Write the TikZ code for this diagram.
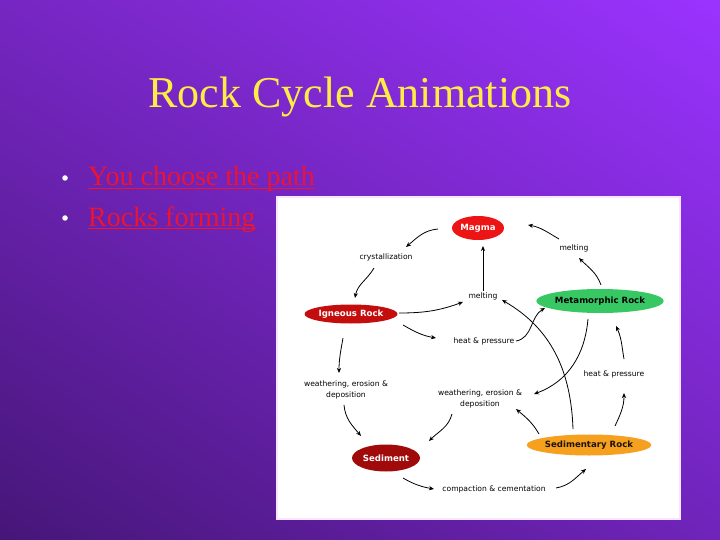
\documentclass[tikz,border=0pt]{standalone}
\usepackage{fontspec}
\setmainfont{Liberation Serif}
\newfontfamily\diagfont{DejaVu Sans}
\usetikzlibrary{shapes.geometric,arrows.meta,shadings}
\definecolor{bgll}{RGB}{70,22,120}
\definecolor{bgur}{RGB}{154,51,255}
\definecolor{bgul}{RGB}{118,38,194}
\definecolor{bglr}{RGB}{112,36,186}
\definecolor{titleyellow}{RGB}{255,236,70}
\definecolor{linkred}{RGB}{235,20,50}
\definecolor{magmared}{RGB}{236,20,20}
\definecolor{ignred}{RGB}{196,13,13}
\definecolor{metagreen}{RGB}{55,200,100}
\definecolor{sedred}{RGB}{160,10,10}
\definecolor{sedorange}{RGB}{245,160,30}
\definecolor{imgborder}{RGB}{246,230,255}
\tikzset{
  rock/.style={ellipse, inner sep=0pt, font=\diagfont\bfseries\fontsize{8.6}{9}\selectfont},
  lbl/.style={inner sep=0.5pt, align=center, font=\diagfont\fontsize{7.6}{10.5}\selectfont},
  arr/.style={-{Stealth[length=5pt,width=4.2pt]}, line width=0.8pt, black},
  bulletdot/.style={circle, fill=white, inner sep=0pt, minimum size=5.5pt},
  link/.style={anchor=base west, inner sep=0pt, text=linkred, font=\fontsize{28}{28}\selectfont}
}
\begin{document}
\begin{tikzpicture}[x=1pt,y=1pt]
\useasboundingbox (0,0) rectangle (720,-540);
\shade[upper left=bgul, upper right=bgur, lower left=bgll, lower right=bglr] (0,0) rectangle (720,-540);

% title
\node[anchor=base, inner sep=0pt, text=titleyellow, font=\fontsize{44}{44}\selectfont] (title) at (360,-108) {Rock Cycle Animations};

% bullets
\node[bulletdot] (b1) at (65,-178) {};
\node[bulletdot] (b2) at (65,-218) {};
\node[link] (l1) at (88,-186) {You choose the path};
\node[link] (l2) at (88,-226) {Rocks forming};
\draw[linkred, line width=1.5pt] ([yshift=-2.5pt]l1.base west) -- ([yshift=-2.5pt]l1.base east);
\draw[linkred, line width=1.5pt] ([yshift=-2.5pt]l2.base west) -- ([yshift=-2.5pt]l2.base east);

% image box
\draw[fill=white, draw=imgborder, line width=2pt] (277,-197) rectangle (680,-519);

% rocks
\node[rock, fill=magmared, text=white, minimum width=52pt, minimum height=24pt] (magma) at (478,-228) {Magma};
\node[rock, fill=ignred, text=white, minimum width=93pt, minimum height=19pt] (igneous) at (351,-314) {Igneous Rock};
\node[rock, fill=metagreen, text=black, minimum width=112pt, minimum height=24pt] (meta) at (600,-301) {Metamorphic Rock};
\node[rock, fill=sedred, text=white, minimum width=68pt, minimum height=27pt] (sediment) at (386,-458) {Sediment};
\node[rock, fill=sedorange, text=black!85!brown, minimum width=110pt, minimum height=21pt] (sedrock) at (589,-445) {Sedimentary Rock};

% process labels
\node[lbl] (cryst) at (386,-257) {crystallization};
\node[lbl] (meltc) at (483,-296) {melting};
\node[lbl] (meltr) at (574,-248) {melting};
\node[lbl] (hpm) at (484,-341) {heat \& pressure};
\node[lbl] (hpr) at (614,-374) {heat \& pressure};
\node[lbl] (wel) at (346,-390) {weathering, erosion \&\\deposition};
\node[lbl] (wem) at (480,-399) {weathering, erosion \&\\deposition};
\node[lbl] (comp) at (494,-489) {compaction \& cementation};

% connectors
\draw[arr] ([shift={(-40,-1)}]magma.center) to[out=185,in=40] ([shift={(20,10)}]cryst.center);
\draw[arr] ([shift={(-12,-11)}]cryst.center) to[out=240,in=80] ([shift={(4,16)}]igneous.center);
\draw[arr] ([shift={(48,1)}]igneous.center) to[out=0,in=200] ([shift={(-20,-6)}]meltc.center);
\draw[arr] ([shift={(52,-11)}]igneous.center) to[out=-30,in=170] ([shift={(-48,3)}]hpm.center);
\draw[arr] ([shift={(32,0)}]hpm.center) to[out=10,in=210] ([shift={(-55,-7)}]meta.center);
\draw[arr] ([shift={(0,5)}]meltc.center) -- ([shift={(5,-18)}]magma.center);
\draw[arr] ([shift={(1,16)}]meta.center) to[out=110,in=-45] ([shift={(5,-10)}]meltr.center);
\draw[arr] ([shift={(-15,9)}]meltr.center) to[out=150,in=-10] ([shift={(50,3)}]magma.center);
\draw[arr] ([shift={(-8,-24)}]igneous.center) to[out=-100,in=90] ([shift={(-7,17)}]wel.center);
\draw[arr] ([shift={(-2,-15)}]wel.center) to[out=-85,in=130] ([shift={(-25,22)}]sediment.center);
\draw[arr] ([shift={(-28,-15)}]wem.center) to[out=-105,in=45] ([shift={(43,17)}]sediment.center);
\draw[arr] ([shift={(-12,-18)}]meta.center) to[out=-95,in=20] ([shift={(54,5)}]wem.center);
\draw[arr] ([shift={(-16,16)}]sedrock.center) to[out=92,in=-30] ([shift={(19,-4)}]meltc.center);
\draw[arr] ([shift={(-50,11)}]sedrock.center) to[out=120,in=-40] ([shift={(36,-10)}]wem.center);
\draw[arr] ([shift={(26,19)}]sedrock.center) to[out=65,in=-90] ([shift={(10,-19)}]hpr.center);
\draw[arr] ([shift={(10,15)}]hpr.center) to[out=100,in=-65] ([shift={(16,-25)}]meta.center);
\draw[arr] ([shift={(17,-20)}]sediment.center) to[out=-30,in=170] ([shift={(-60,0)}]comp.center);
\draw[arr] ([shift={(62,1)}]comp.center) to[out=10,in=220] ([shift={(-3,-24)}]sedrock.center);
\end{tikzpicture}
\end{document}
